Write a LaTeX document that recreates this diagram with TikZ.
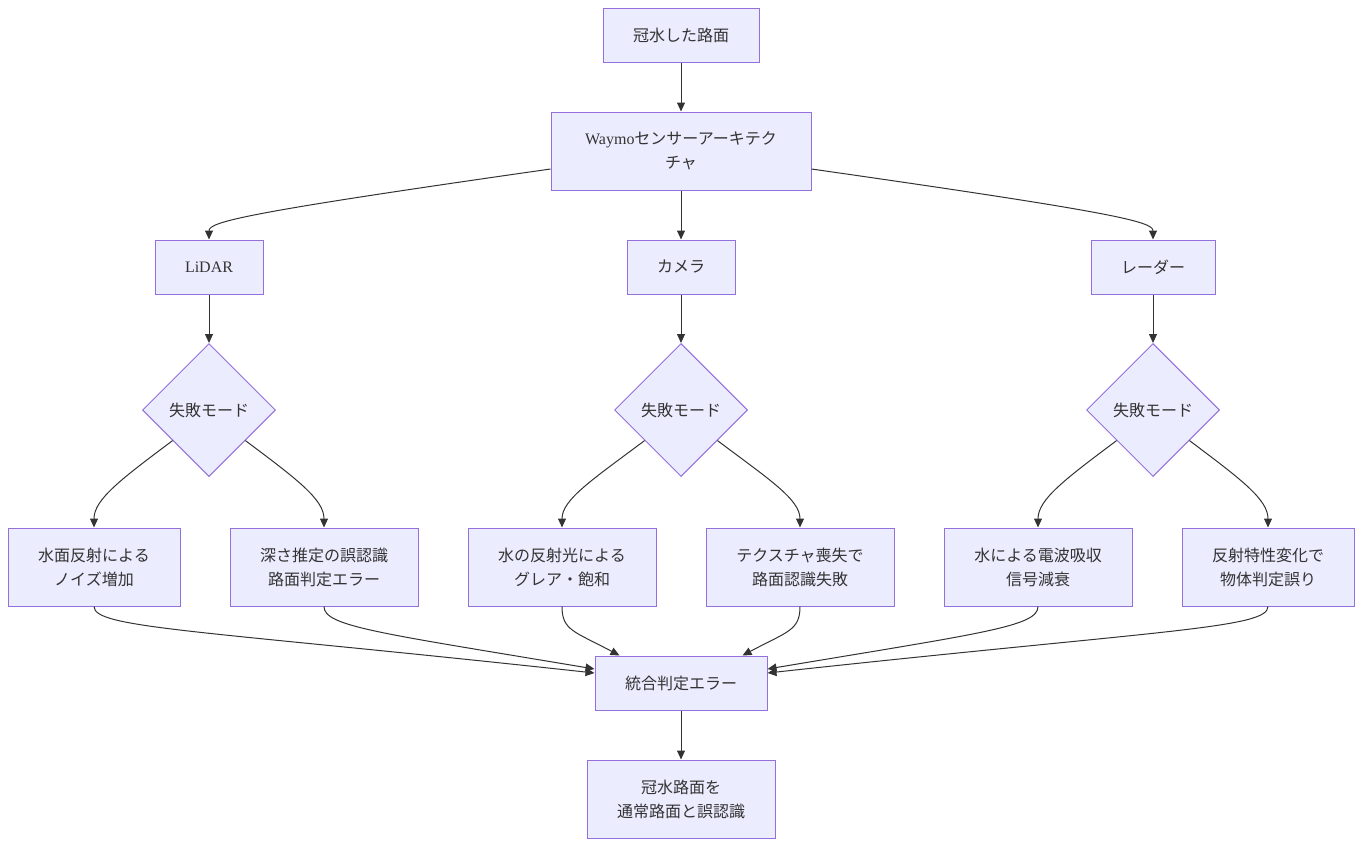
\documentclass[tikz,border=0pt]{standalone}
\usepackage{fontspec}
\setmainfont{Liberation Serif}
\newfontfamily\jp{Noto Sans CJK JP}
\usetikzlibrary{arrows.meta}
\usetikzlibrary{shapes.geometric}
\definecolor{boxfill}{HTML}{ECECFF}
\definecolor{boxline}{HTML}{9370DB}
\definecolor{ink}{HTML}{333333}

\begin{document}
\begin{tikzpicture}[x=1pt,y=-1pt,
  box/.style={draw=boxline,fill=boxfill,line width=1pt,minimum height=54pt,inner sep=0pt,
    align=center,text=ink,font=\jp\fontsize{16}{24}\selectfont},
  tall/.style={box,minimum height=78pt},
  mode/.style={box,diamond,aspect=1,minimum width=133pt,minimum height=133pt},
  link/.style={draw=ink,line width=1pt,-{Triangle[length=9pt,width=8pt]}}]
\useasboundingbox (0,0) rectangle (1362,846);

\node[box,minimum width=156pt] (flood) at (681,35) {冠水した路面};
\node[tall,minimum width=260pt] (waymo) at (681,151) {{\rmfamily Waymo}センサーアーキテク\\チャ};
\node[box,minimum width=108pt] (lidar) at (209,267) {{\rmfamily LiDAR}};
\node[box,minimum width=108pt] (camera) at (681,267) {カメラ};
\node[box,minimum width=124pt] (radar) at (1153,267) {レーダー};
\foreach \s/\x in {lidar/209,camera/681,radar/1153}
  \node[mode] (m\s) at (\x,410) {失敗モード};

\node[tall,minimum width=172pt] (noise) at (94,567) {水面反射による\\ノイズ増加};
\node[tall,minimum width=188pt] (depth) at (324,567) {深さ推定の誤認識\\路面判定エラー};
\node[tall,minimum width=188pt] (glare) at (562,567) {水の反射光による\\グレア・飽和};
\node[tall,minimum width=188pt] (texture) at (800,567) {テクスチャ喪失で\\路面認識失敗};
\node[tall,minimum width=188pt] (absorb) at (1038,567) {水による電波吸収\\信号減衰};
\node[tall,minimum width=172pt] (reflect) at (1268,567) {反射特性変化で\\物体判定誤り};
\node[box,minimum width=172pt] (fusion) at (681,683) {統合判定エラー};
\node[tall,minimum width=188pt] (result) at (681,799) {冠水路面を\\通常路面と誤認識};

\draw[link] (flood) -- (waymo);
\draw[link] ([yshift=-18pt]waymo.west) .. controls +(-301,43) and +(0,-18) .. (lidar.north);
\draw[link] (waymo) -- (camera);
\draw[link] ([yshift=-18pt]waymo.east) .. controls +(301,43) and +(0,-18) .. (radar.north);
\foreach \s in {lidar,camera,radar}
  \draw[link] (\s) -- (m\s);

\foreach \s/\l/\r in {lidar/noise/depth,camera/glare/texture,radar/absorb/reflect}{
  \draw[link] (m\s.220) .. controls +(-52,39) and +(0,-28) .. (\l.north);
  \draw[link] (m\s.-40) .. controls +(52,39) and +(0,-28) .. (\r.north);
}

\draw[link] (noise.south) .. controls +(0,22) and +(-395,-43) .. ([yshift=10pt]fusion.west);
\draw[link] (depth.south) .. controls +(0,20) and +(-215,-36) .. ([yshift=14pt]fusion.west);
\draw[link] (glare.south) .. controls +(0,24) and +(-45,-24) .. ([xshift=25pt]fusion.north west);
\draw[link] (texture.south) .. controls +(0,24) and +(45,-24) .. ([xshift=-25pt]fusion.north east);
\draw[link] (absorb.south) .. controls +(0,20) and +(215,-36) .. ([yshift=14pt]fusion.east);
\draw[link] (reflect.south) .. controls +(0,22) and +(395,-43) .. ([yshift=10pt]fusion.east);
\draw[link] (fusion) -- (result);
\end{tikzpicture}
\end{document}
